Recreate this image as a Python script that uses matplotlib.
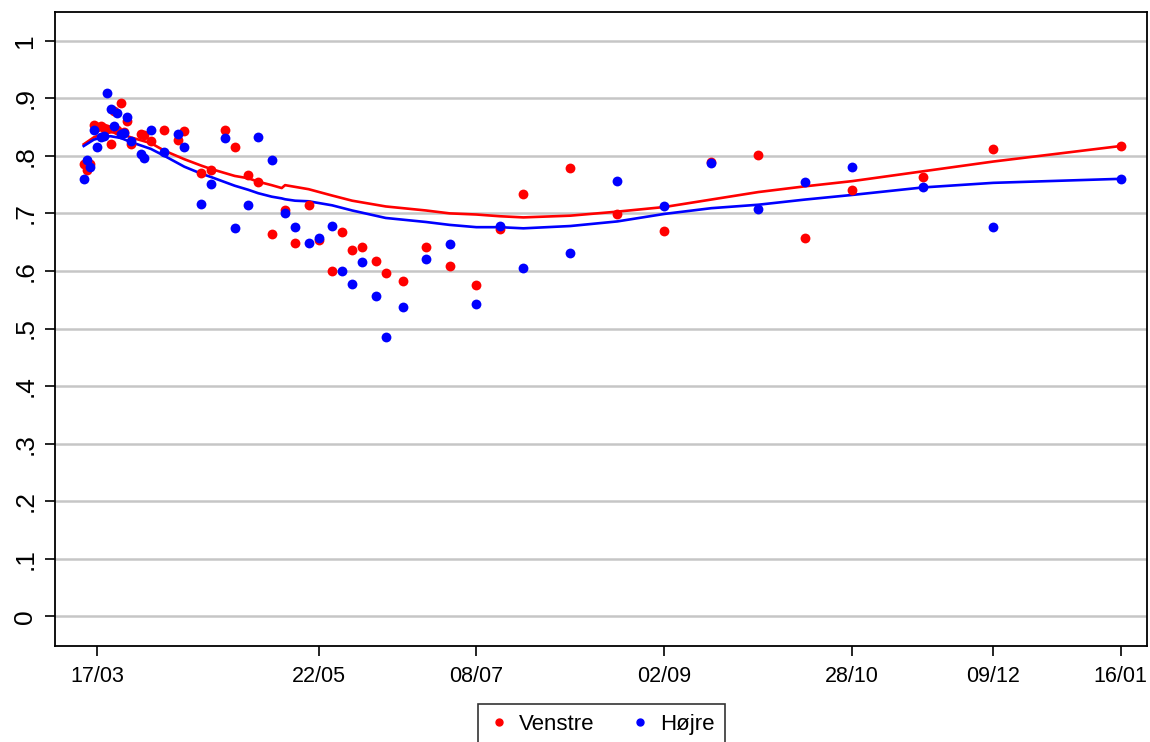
import matplotlib
matplotlib.use("Agg")
import matplotlib.pyplot as plt
import matplotlib.dates as mdates
from matplotlib.lines import Line2D
import pandas as pd

plt.rcParams['font.family'] = ['Liberation Sans', 'DejaVu Sans']

# survey dates and shares
dates = ["2020-03-13", "2020-03-14", "2020-03-15", "2020-03-16", "2020-03-17",
         "2020-03-18", "2020-03-19", "2020-03-20", "2020-03-21", "2020-03-22",
         "2020-03-23", "2020-03-24", "2020-03-25", "2020-03-26", "2020-03-27",
         "2020-03-30", "2020-03-31", "2020-04-02", "2020-04-06", "2020-04-10",
         "2020-04-12", "2020-04-17", "2020-04-20", "2020-04-24", "2020-04-27",
         "2020-05-01", "2020-05-04", "2020-05-08", "2020-05-12", "2020-05-15",
         "2020-05-19", "2020-05-22", "2020-05-26", "2020-05-29", "2020-06-01",
         "2020-06-04", "2020-06-08", "2020-06-11", "2020-06-16", "2020-06-23",
         "2020-06-30", "2020-07-08", "2020-07-15", "2020-07-22", "2020-08-05",
         "2020-08-19", "2020-09-02", "2020-09-16", "2020-09-30", "2020-10-14",
         "2020-10-28", "2020-11-18", "2020-12-09", "2021-01-16"]

venstre = [.786, .776, .786, .853, .850, .852, .849, .846, .820, .878,
           .844, .891, .842, .861, .821, .838, .836, .826, .845, .828,
           .843, .770, .776, .845, .815, .767, .754, .665, .705, .648,
           .715, .654, .600, .668, .637, .642, .617, .597, .583, .642,
           .608, .576, .673, .734, .778, .699, .669, .790, .802, .657,
           .741, .763, .811, .817]

hoejre = [.760, .792, .780, .844, .816, .832, .835, .909, .882, .852,
          .874, .837, .840, .868, .825, .803, .797, .844, .806, .838,
          .815, .716, .751, .831, .675, .715, .832, .793, .701, .677,
          .648, .657, .678, .600, .578, .616, .557, .485, .537, .620,
          .647, .543, .678, .605, .631, .756, .713, .788, .708, .755,
          .780, .746, .676, .760]

# smoothed trend lines
line_dates = ["2020-03-13", "2020-03-16", "2020-03-19", "2020-03-21", "2020-03-24",
              "2020-03-27", "2020-04-02", "2020-04-06", "2020-04-12", "2020-04-17",
              "2020-04-20", "2020-04-27", "2020-05-01", "2020-05-04", "2020-05-08",
              "2020-05-11", "2020-05-12", "2020-05-15", "2020-05-19", "2020-05-26",
              "2020-06-01", "2020-06-11", "2020-06-23", "2020-06-30", "2020-07-08",
              "2020-07-15", "2020-07-22", "2020-08-05", "2020-08-19", "2020-09-02",
              "2020-09-16", "2020-09-30", "2020-10-14", "2020-10-28", "2020-11-18",
              "2020-12-09", "2021-01-16"]

venstre_fit = [.820, .832, .839, .841, .839, .832, .822, .809, .794, .783,
               .777, .765, .761, .755, .749, .744, .749, .746, .742, .731,
               .722, .712, .705, .700, .698, .695, .693, .696, .703, .711,
               .724, .737, .747, .756, .773, .790, .817]

hoejre_fit = [.817, .828, .833, .834, .831, .824, .812, .800, .781, .769,
              .763, .748, .741, .735, .729, .726, .7245, .722, .721, .714,
              .705, .692, .685, .680, .676, .676, .674, .678, .686, .699,
              .709, .715, .724, .732, .745, .753, .760]

tick_dates = ["2020-03-17", "2020-05-22", "2020-07-08", "2020-09-02",
              "2020-10-28", "2020-12-09", "2021-01-16"]
tick_labels = ["17/03", "22/05", "08/07", "02/09", "28/10", "09/12", "16/01"]

y_ticks = [0, .1, .2, .3, .4, .5, .6, .7, .8, .9, 1]
y_labels = ["0", ".1", ".2", ".3", ".4", ".5", ".6", ".7", ".8", ".9", "1"]

x = mdates.date2num(pd.to_datetime(dates))
xl = mdates.date2num(pd.to_datetime(line_dates))
xt = mdates.date2num(pd.to_datetime(tick_dates))

fig = plt.figure(figsize=(11.5, 7.42), dpi=100)
ax = fig.add_axes([0.048, 0.129, 0.949, 0.855])

for v in y_ticks:
    ax.axhline(v, color="#c6c6c6", lw=1.8, zorder=0)

ax.plot(xl, venstre_fit, color="#ff0000", lw=1.9, zorder=2)
ax.plot(xl, hoejre_fit, color="#0000ff", lw=1.9, zorder=2)
ax.scatter(x, venstre, s=50, color="#ff0000", linewidths=0, zorder=3)
ax.scatter(x, hoejre, s=50, color="#0000ff", linewidths=0, zorder=4)

ax.set_xlim(xt[0] - 12.5, xt[-1] + 7.7)
ax.set_ylim(-0.052, 1.05)

ax.set_xticks(xt)
ax.set_xticklabels(tick_labels, fontsize=15.5)
ax.set_yticks(y_ticks)
ax.set_yticklabels(y_labels, fontsize=19, rotation=90, va="center")

ax.tick_params(axis="x", length=7, width=1.2, pad=7)
ax.tick_params(axis="y", length=7, width=1.2, pad=6)
for sp in ax.spines.values():
    sp.set_linewidth(1.3)
    sp.set_color("black")

handles = [Line2D([], [], marker="o", ls="none", color="#ff0000", markersize=5),
           Line2D([], [], marker="o", ls="none", color="#0000ff", markersize=5)]
leg = fig.legend(handles, ["Venstre", "Højre"], loc="upper center",
                 bbox_to_anchor=(0.523, 0.066), ncol=2, fontsize=16,
                 frameon=True, fancybox=False, edgecolor="black",
                 handletextpad=0.4, columnspacing=1.55, handlelength=1.0,
                 borderpad=0.45)
leg.get_frame().set_linewidth(1.2)

fig.savefig("out.png", dpi=100)
plt.close(fig)
